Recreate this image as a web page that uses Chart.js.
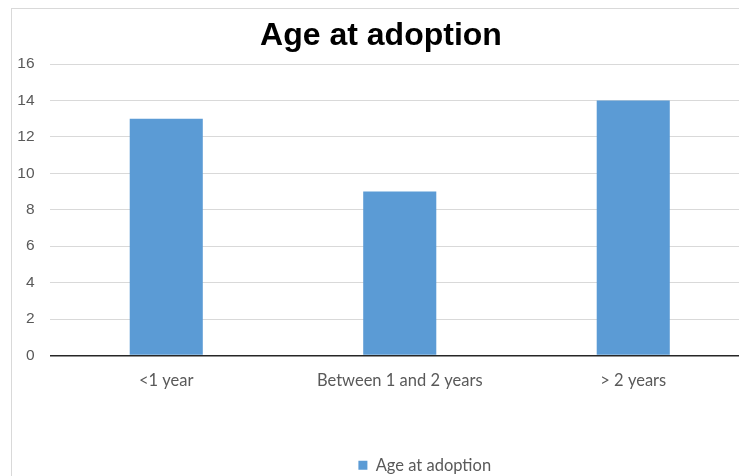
<!DOCTYPE html>
<html>
<head>
<meta charset="utf-8">
<script src="https://cdn.jsdelivr.net/npm/chart.js@4"></script>
<style>
  html, body { margin: 0; padding: 0; background: #fff; overflow: hidden; }
  #box {
    position: absolute; left: 11px; top: 8px;
    width: 748px; height: 480px;
    border: 1px solid #d9d9d9; background: #fff;
  }
</style>
</head>
<body>
<div id="box"><canvas id="chart" width="748" height="480"></canvas></div>
<script>
// données
const categories = ["<1 year", "Between 1 and 2 years", "> 2 years"];
const ageValues = [13, 9, 14];
const seriesName = "Age at adoption";
const yTicks = [0, 2, 4, 6, 8, 10, 12, 14, 16];

// décale la légende vers la droite comme dans Excel
const legendShift = {
  id: "legendShift",
  afterLayout(chart) {
    if (chart.legend) {
      chart.legend.left += 25;
      chart.legend.right += 25;
    }
  },
};

const ctx = document.getElementById("chart").getContext("2d");
new Chart(ctx, {
  type: "bar",
  data: {
    labels: categories,
    datasets: [
      {
        label: seriesName,
        data: ageValues,
        backgroundColor: "#5b9bd5",
        borderWidth: 0,
        barPercentage: 0.313,
        categoryPercentage: 1,
      },
    ],
  },
  plugins: [legendShift],
  options: {
    responsive: false,
    animation: false,
    layout: { padding: { left: 0, right: 10, top: 0, bottom: 5.5 } },
    plugins: {
      title: {
        display: true,
        text: "Age at adoption",
        color: "#000",
        font: { family: "'Liberation Sans', Arial", size: 32, weight: "bold" },
        padding: { top: 8, bottom: 8.6 },
      },
      legend: {
        position: "bottom",
        fullSize: false,
        labels: {
          color: "#595959",
          boxWidth: 9,
          boxHeight: 9,
          padding: 10,
          font: { family: "Lato", size: 16.5 },
        },
      },
      tooltip: { enabled: false },
    },
    scales: {
      x: {
        grid: { display: false },
        border: { display: false },
        ticks: {
          color: "#595959",
          padding: 7,
          font: { family: "Lato", size: 16.5 },
        },
        afterFit: (scale) => {
          scale.height = 91.5;
        },
      },
      y: {
        min: 0,
        max: 16,
        afterBuildTicks: (scale) => {
          scale.ticks = yTicks.map((v) => ({ value: v }));
        },
        grid: {
          drawTicks: false,
          color: (c) => (c.tick && c.tick.value === 0 ? "#262626" : "#d9d9d9"),
          lineWidth: (c) => (c.tick && c.tick.value === 0 ? 1.5 : 1),
        },
        border: { display: false },
        ticks: {
          color: "#595959",
          padding: 15,
          font: { family: "'Liberation Sans', Arial", size: 15.5 },
        },
        afterFit: (scale) => {
          scale.width = 37.5;
        },
      },
    },
  },
});
</script>
</body>
</html>
